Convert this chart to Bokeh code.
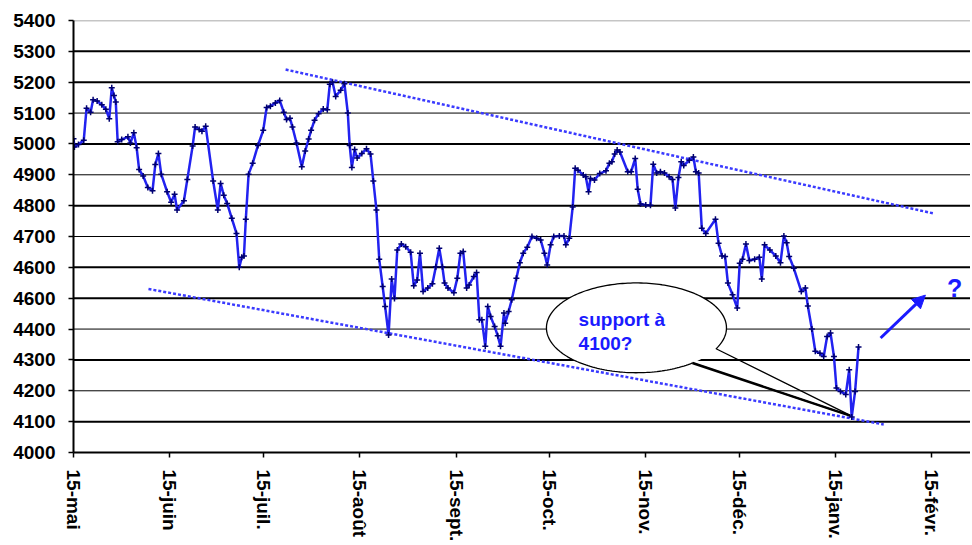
import numpy as np
from bokeh.plotting import figure
from bokeh.models import Range1d, FixedTicker, Span, Arrow, NormalHead
from bokeh.embed import file_html
from bokeh.resources import INLINE
from bokeh.core.properties import value

# ---- data: trading days counted from 15 May, index level ----
days = [0.0, 0.3, 1.6, 3.3, 4.2, 5.5, 6.3, 7.6, 9.1, 10.4, 11.5, 12.3, 13.0, 13.6, 14.2, 15.5, 17.5, 18.3, 19.4,
        20.3, 21.1, 22.4, 23.9, 25.4, 26.3, 27.3, 28.2, 30.1, 31.4, 32.5, 33.3, 35.5, 36.6, 38.3, 39.1, 40.4, 41.3,
        42.5, 44.9, 46.4, 47.3, 48.3, 49.4, 50.9, 52.4, 53.3, 54.1, 54.8, 55.4, 56.3, 57.6, 59.3, 61.0, 62.1, 63.3,
        64.9, 66.3, 67.6, 68.5, 69.6, 70.4, 71.7, 73.4, 74.5, 75.6, 76.4, 77.5, 78.8, 80.3, 81.6, 82.4, 83.3, 84.3,
        85.9, 87.1, 88.2, 88.8, 89.5, 90.4, 91.2, 92.7, 94.2, 95.5, 96.4, 97.4, 98.3, 99.4, 100.2, 101.3,
        102.3, 103.2, 104.1, 105.4, 106.8, 108.4, 109.4, 110.5, 111.4, 112.4, 113.9, 115.4, 116.5, 117.6, 118.6,
        119.3, 120.4, 122.3, 123.4, 124.4, 125.3, 126.4, 127.2, 128.7, 129.6, 130.5, 131.3, 132.4, 133.2, 134.1,
        135.4, 136.4, 137.3, 138.4, 138.8, 139.9, 140.9, 142.4, 143.5, 144.6, 145.9, 147.4, 148.9, 150.2, 151.4,
        152.3, 153.4, 154.4, 156.2, 157.7, 158.3, 159.4, 160.5, 161.3, 162.2, 163.9, 164.7, 165.6, 166.2, 167.5,
        169.2, 171.2, 172.3, 173.1, 174.0, 174.8, 175.7, 178.2, 179.3, 180.6, 181.4, 182.3, 184.0, 185.5, 186.4,
        187.5, 188.7, 190.0, 191.5, 192.6, 193.5, 194.5, 195.4, 196.2, 198.0, 199.3, 200.1, 201.0, 202.0, 203.3,
        206.4, 207.4, 208.5, 209.5, 210.4, 211.9, 213.4, 214.2, 215.1, 216.2, 217.3, 219.0, 220.5, 221.3, 222.2,
        223.9, 225.8, 227.3, 228.4, 229.3, 230.1, 231.6, 234.0, 235.3, 236.1, 237.4, 238.5, 240.0, 241.2, 242.3,
        243.4, 244.5, 245.3, 246.6, 248.3, 249.4, 250.2, 251.3, 252.4]

level = [5017, 4990, 4998, 5012, 5116, 5103, 5143, 5139, 5127, 5112, 5082, 5182, 5157, 5136, 5007, 5014, 5023, 5003,
         5036, 4988, 4917, 4896, 4859, 4848, 4933, 4969, 4902, 4845, 4811, 4837, 4786, 4816, 4885, 4993, 5055, 5047,
         5041, 5057, 4880, 4786, 4872, 4834, 4807, 4759, 4710, 4600, 4633, 4637, 4756, 4902, 4937, 4995, 5044, 5118,
         5122, 5133, 5141, 5103, 5079, 5083, 5055, 5003, 4926, 4977, 5016, 5044, 5077, 5098, 5113, 5111, 5193, 5200,
         5154, 5174, 5195, 5100, 4995, 4924, 4982, 4954, 4969, 4984, 4967, 4880, 4786, 4626, 4538, 4473, 4381,
         4562, 4499, 4656, 4676, 4667, 4649, 4540, 4559, 4646, 4522, 4533, 4547, 4602, 4662, 4602, 4549, 4533, 4518,
         4565, 4646, 4651, 4533, 4543, 4570, 4583, 4430, 4430, 4344, 4473, 4441, 4408, 4378, 4344, 4452, 4419, 4457,
         4495, 4565, 4615, 4646, 4665, 4700, 4694, 4689, 4646, 4608, 4673, 4700, 4702, 4702, 4673, 4694, 4796, 4921,
         4915, 4899, 4894, 4845, 4888, 4883, 4904, 4913, 4937, 4942, 4967, 4980, 4974, 4910, 4910, 4953, 4853, 4805,
         4802, 4801, 4934, 4906, 4910, 4906, 4894, 4885, 4792, 4891, 4942, 4930, 4947, 4958, 4910, 4906, 4727, 4710,
         4756, 4678, 4637, 4635, 4549, 4511, 4468, 4613, 4626, 4676, 4622, 4626, 4633, 4562, 4673, 4656, 4637, 4615,
         4702, 4680, 4635, 4597, 4522, 4533, 4475, 4400, 4328, 4322, 4311, 4376, 4387, 4311, 4209, 4198, 4188, 4268,
         4115, 4198, 4342]

# trend lines (resistance / support)
upper_days = [68.2, 276.4]
upper_vals = [5241, 4775]
lower_days = [24.1, 260.5]
lower_vals = [4530, 4091]

tick_days = [0, 31, 61, 92, 123, 153, 184, 214, 245, 276]
tick_labels = ["15-mai", "15-juin", "15-juil.", "15-août", "15-sept.", "15-oct.",
               "15-nov.", "15-déc.", "15-janv.", "15-févr."]
y_ticks = list(range(4000, 5401, 100))
y_labels = {4500: "4600"}   # as printed on the original chart
thick_levels = [5300, 5200, 5000, 4800, 4600, 4500, 4300, 4100]

BLUE = "#2222f0"
FONT = "Liberation Sans"

p = figure(width=970, height=544, output_backend="svg", toolbar_location=None,
           x_range=Range1d(0, 288.4), y_range=Range1d(4000, 5400),
           min_border_left=73, min_border_right=0, min_border_top=20, min_border_bottom=92)
p.outline_line_color = None
p.xgrid.visible = False
p.ygrid.visible = False
p.background_fill_color = "white"
p.border_fill_color = "white"

# horizontal grid
for lv in y_ticks[1:-1]:
    p.add_layout(Span(location=lv, dimension="width", line_color="black",
                      line_width=2 if lv in thick_levels else 1, level="underlay"))
p.add_layout(Span(location=5400, dimension="width", line_color="#8c8c8c", line_width=1.5, level="underlay"))

# axes
for ax in (p.xaxis[0], p.yaxis[0]):
    ax.axis_line_color = "black"
    ax.axis_line_width = 2
    ax.major_tick_line_color = "black"
    ax.major_tick_line_width = 1.5
    ax.major_tick_in = 0
    ax.major_tick_out = 5
    ax.minor_tick_line_color = None
    ax.major_label_text_font = FONT
    ax.major_label_text_font_style = "bold"
    ax.major_label_text_font_size = "19px"
    ax.major_label_text_color = "black"

p.yaxis.ticker = FixedTicker(ticks=y_ticks)
p.yaxis.major_label_overrides = y_labels
p.yaxis.major_label_standoff = 13
p.xaxis.ticker = FixedTicker(ticks=tick_days)
p.xaxis.major_label_overrides = dict(zip(tick_days, tick_labels))
p.xaxis.major_label_orientation = "vertical"
p.xaxis.major_label_standoff = 12

# callout bubble (annotation geometry)
cx, cy, ax_d, by_v = 181.0, 4404, 28.94, 145.5
t_full = np.linspace(0, 2 * np.pi, 200)
p.patch(cx + ax_d * np.cos(t_full), cy - by_v * np.sin(t_full), fill_color="white", line_color=None)
t1, t2 = np.deg2rad(27.8), np.deg2rad(51.5)
t_arc = np.linspace(t2, t1 + 2 * np.pi, 200)
tip = (250.4, 4117)
ox = list(cx + ax_d * np.cos(t_arc)) + [tip[0], cx + ax_d * np.cos(t2)]
oy = list(cy - by_v * np.sin(t_arc)) + [tip[1], cy - by_v * np.sin(t2)]
p.line(ox, oy, line_color="black", line_width=1.3)
p.line([cx + ax_d * np.cos(t2), tip[0]], [cy - by_v * np.sin(t2), tip[1]], line_color="black", line_width=2.5)

# trend lines
p.line(upper_days, upper_vals, line_color="#3a3aff", line_width=2.5, line_dash="3 2")
p.line(lower_days, lower_vals, line_color="#3a3aff", line_width=2.5, line_dash="3 2")

# main series
p.line(days, level, line_color=BLUE, line_width=2.5)
p.scatter(days, level, marker="cross", size=6, line_color="#000070", line_width=1.5)

# texts
p.text(x=[162.4, 162.4], y=[4430, 4352], text=["support à", "4100?"],
       text_font=value(FONT), text_font_style="bold", text_font_size="19px",
       text_color="#1a1aff", text_baseline="alphabetic", text_align="left")
p.text(x=[283.3], y=[4532], text=["?"], text_font=value(FONT), text_font_style="bold",
       text_font_size="25px", text_color="#1a1aff", text_baseline="alphabetic", text_align="center")

p.add_layout(Arrow(end=NormalHead(size=13, fill_color="#1a1aff", line_color="#1a1aff"),
                   x_start=259.5, y_start=4371, x_end=273.9, y_end=4510,
                   line_color="#1a1aff", line_width=3))

open("out.html", "w").write(file_html(p, INLINE))
